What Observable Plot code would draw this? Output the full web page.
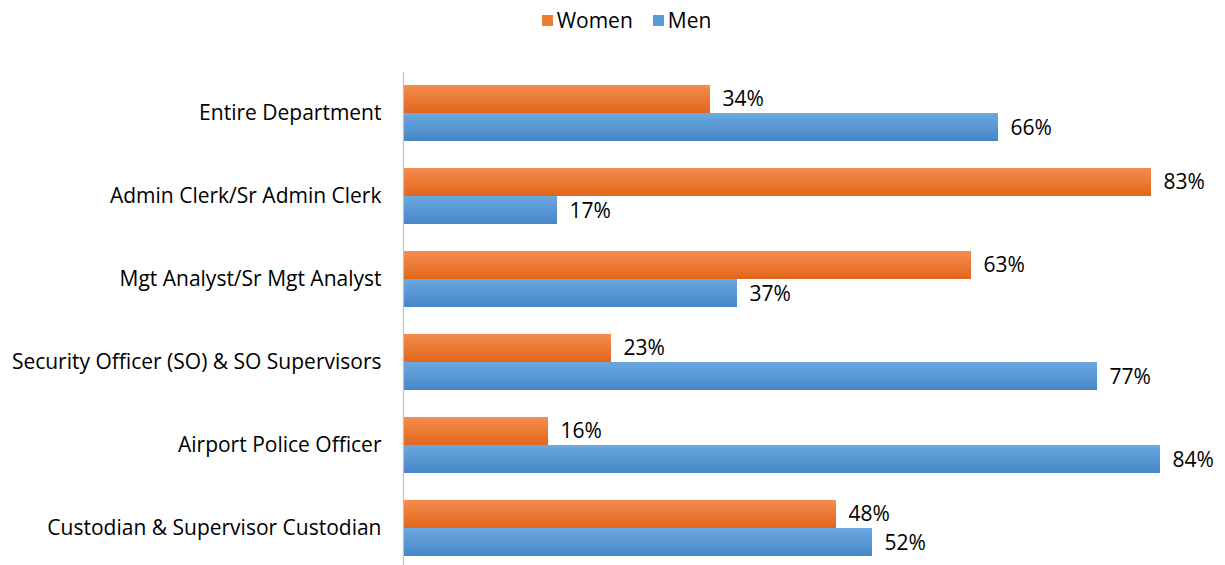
<!DOCTYPE html>
<html>
<head>
<meta charset="utf-8">
<script src="https://cdn.jsdelivr.net/npm/d3@7"></script>
<script src="https://cdn.jsdelivr.net/npm/@observablehq/plot@0.6"></script>
<style>
  html, body { margin: 0; padding: 0; background: #fff; }
  body { width: 1225px; height: 565px; overflow: hidden; font-family: "Open Sans", Lato, sans-serif; }
  #legend { height: 40px; display: flex; justify-content: center; align-items: center; padding-left: 28px; box-sizing: border-box; font-size: 21px; color: #000; }
  .item { display: flex; align-items: center; margin: 0 10px; }
  .sw { width: 11px; height: 11px; margin-right: 4px; }
  svg { display: block; overflow: visible; }
</style>
</head>
<body>
<div id="legend"></div>
<div id="chart"></div>
<script>
const categories = [
  "Entire Department",
  "Admin Clerk/Sr Admin Clerk",
  "Mgt Analyst/Sr Mgt Analyst",
  "Security Officer (SO) & SO Supervisors",
  "Airport Police Officer",
  "Custodian & Supervisor Custodian"
];
const women = [34, 83, 63, 23, 16, 48];
const men = [66, 17, 37, 77, 84, 52];
const seriesNames = ["Women", "Men"];
const seriesColors = ["#ED7D31", "#5B9BD5"];

const womenData = categories.map((c, i) => ({category: c, value: women[i]}));
const menData = categories.map((c, i) => ({category: c, value: men[i]}));

// Legend
const legend = document.getElementById("legend");
seriesNames.forEach((s, i) => {
  const it = document.createElement("div");
  it.className = "item";
  it.innerHTML = `<div class="sw" style="background:${seriesColors[i]}"></div><span>${s}</span>`;
  legend.appendChild(it);
});

const chart = Plot.plot({
  width: 1225,
  height: 530,
  marginLeft: 404,
  marginRight: 2,
  marginTop: 32,
  marginBottom: 0,
  style: {fontFamily: "'Open Sans', Lato, sans-serif", fontSize: "21px", color: "#000", background: "transparent", overflow: "visible"},
  x: {domain: [0, 91], axis: null},
  y: {domain: categories, paddingInner: 0.325, paddingOuter: 0.1625, align: 0.5, label: null, tickSize: 0, tickPadding: 23},
  marks: [
    Plot.barX(womenData, {y: "category", x: "value", fill: "url(#gradW)", insetTop: 0, insetBottom: 28, ariaLabel: "womenbar"}),
    Plot.barX(menData, {y: "category", x: "value", fill: "url(#gradM)", insetTop: 28, insetBottom: 0, ariaLabel: "menbar"}),
    Plot.ruleX([0], {stroke: "#BFBFBF", strokeWidth: 1.2, dx: -1}),
    Plot.text(womenData, {y: "category", x: "value", text: d => d.value + "%", dx: 12, dy: -14, textAnchor: "start", fill: "#000", fontSize: 21}),
    Plot.text(menData, {y: "category", x: "value", text: d => d.value + "%", dx: 12, dy: 15, textAnchor: "start", fill: "#000", fontSize: 21})
  ]
});

const svg = d3.select(chart);
const defs = svg.insert("defs", ":first-child");
function grad(id, top, bottom) {
  const g = defs.append("linearGradient").attr("id", id).attr("x1", 0).attr("y1", 0).attr("x2", 0).attr("y2", 1);
  g.append("stop").attr("offset", "0%").attr("stop-color", top);
  g.append("stop").attr("offset", "100%").attr("stop-color", bottom);
}
grad("gradW", "#F58C4F", "#E1661A");
grad("gradM", "#6CA8E0", "#4686C8");
const f = defs.append("filter").attr("id", "shadow").attr("x", "-5%").attr("y", "-20%").attr("width", "115%").attr("height", "160%");
f.append("feDropShadow").attr("dx", 2).attr("dy", 3).attr("stdDeviation", 1.8).attr("flood-color", "#000").attr("flood-opacity", 0.35);
svg.selectAll("g[aria-label='womenbar'], g[aria-label='menbar']").attr("filter", "url(#shadow)");

document.getElementById("chart").appendChild(chart);
</script>
</body>
</html>
